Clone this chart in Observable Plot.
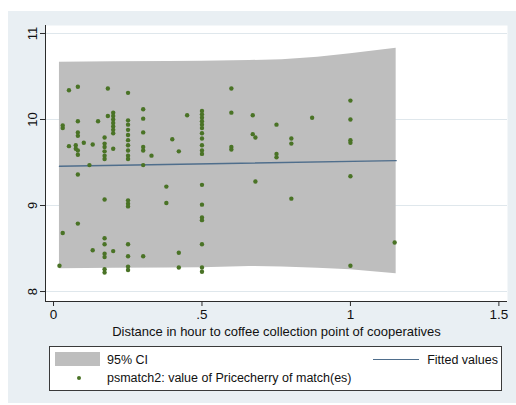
<!DOCTYPE html>
<html>
<head>
<meta charset="utf-8">
<script src="https://cdn.jsdelivr.net/npm/d3@7"></script>
<script src="https://cdn.jsdelivr.net/npm/@observablehq/plot@0.6"></script>
<style>
  html, body { margin: 0; padding: 0; background: #ffffff; }
  #page { position: relative; width: 516px; height: 405px; overflow: hidden; font-family: "Liberation Sans", Arial, sans-serif; }
  #bg { position: absolute; left: 8px; top: 11px; width: 508px; height: 392px; background: #e9eff3; }
  #chart { position: absolute; left: 0; top: 0; }
  #legend { position: absolute; left: 49px; top: 346px; width: 451px; height: 43px; border: 1px solid #3a3a3a; background: #ffffff; font-size: 12.5px; color: #111; }
  #legend .sw { position: absolute; }
  #legend .tx { position: absolute; white-space: nowrap; line-height: 14px; }
</style>
</head>
<body>
<div id="page">
  <div id="bg"></div>
  <div id="chart"></div>
  <div id="legend"></div>
</div>
<script>
// ---- data ----
const xTicks = [0, 0.5, 1, 1.5];
const xTickLabels = ["0", ".5", "1", "1.5"];
const yTicks = [8, 9, 10, 11];
const yTickLabels = ["8", "9", "10", "11"];
const xTitle = "Distance in hour to coffee collection point of cooperatives";

// 95% CI band edges
const bandX  = [0.02, 0.20, 0.39, 0.50, 0.66, 0.77, 0.89, 1.00, 1.154];
const bandHi = [10.666, 10.672, 10.674, 10.676, 10.686, 10.694, 10.724, 10.764, 10.829];
const bandLo = [8.264, 8.270, 8.274, 8.276, 8.292, 8.286, 8.270, 8.252, 8.206];

// fitted values line
const fitX = [0.02, 1.154];
const fitY = [9.457, 9.522];

// psmatch2: value of Pricecherry of match(es)
const ptX = [
  0.02,
  0.031, 0.031, 0.031,
  0.052, 0.052,
  0.075, 0.075,
  0.082, 0.082, 0.082, 0.082, 0.082, 0.082, 0.082, 0.082,
  0.102, 0.121, 0.132, 0.132, 0.150,
  0.172, 0.172, 0.172, 0.172, 0.172, 0.172, 0.172, 0.172, 0.172, 0.172, 0.172, 0.172, 0.172,
  0.183, 0.183,
  0.201, 0.201, 0.201, 0.201, 0.201, 0.201, 0.201, 0.201, 0.201,
  0.251, 0.251, 0.251, 0.251, 0.251, 0.251, 0.251, 0.251, 0.251, 0.251, 0.251, 0.251, 0.251, 0.251, 0.251, 0.251, 0.251,
  0.302, 0.302, 0.302, 0.302, 0.302, 0.302, 0.302,
  0.33, 0.38, 0.38, 0.40, 0.422, 0.422, 0.422, 0.45,
  0.50, 0.50, 0.50, 0.50, 0.50, 0.50, 0.50, 0.50, 0.50, 0.50, 0.50, 0.50, 0.50, 0.50, 0.50, 0.50, 0.50, 0.50,
  0.599, 0.599, 0.599, 0.599,
  0.671, 0.671, 0.68, 0.68,
  0.751, 0.751, 0.751,
  0.801, 0.801, 0.801,
  0.871,
  1.0, 1.0, 1.0, 1.0, 1.0, 1.0,
  1.149
];
const ptY = [
  8.30,
  9.90, 9.93, 8.68,
  10.34, 9.69,
  9.70, 9.66,
  10.38, 9.98, 9.85, 9.81, 9.64, 9.59, 9.36, 8.79,
  9.73, 9.47, 9.71, 8.48, 9.98,
  9.79, 9.72, 9.68, 9.63, 9.58, 9.54, 9.07, 8.62, 8.55, 8.44, 8.40, 8.26, 8.22,
  10.36, 10.04,
  10.08, 10.04, 10.00, 9.96, 9.92, 9.88, 9.84, 9.66, 8.47,
  10.31, 9.99, 9.94, 9.88, 9.82, 9.76, 9.70, 9.64, 9.58, 9.54, 9.06, 9.02, 8.99, 8.55, 8.41, 8.29, 8.25,
  10.12, 10.01, 9.85, 9.68, 9.64, 9.47, 8.41,
  9.58, 9.22, 9.03, 9.77, 9.63, 8.45, 8.28, 10.05,
  10.10, 10.06, 10.02, 9.98, 9.94, 9.90, 9.84, 9.78, 9.70, 9.64, 9.60, 9.24, 9.01, 8.86, 8.83, 8.55, 8.28, 8.23,
  10.36, 10.08, 9.68, 9.65,
  10.05, 9.83, 9.79, 9.28,
  9.94, 9.60, 9.56,
  9.78, 9.72, 9.08,
  10.02,
  10.22, 10.00, 9.76, 9.73, 9.34, 8.30,
  8.57
];

const legendItems = ["95% CI", "Fitted values", "psmatch2: value of Pricecherry of match(es)"];

// ---- build tables ----
const band = bandX.map((x, i) => ({x, lo: bandLo[i], hi: bandHi[i]}));
const fit = fitX.map((x, i) => ({x, y: fitY[i]}));
const pts = ptX.map((x, i) => ({x, y: ptY[i]}));

const colBand = "#bebebe";
const colFit = "#4f6e8c";
const colPt = "#4a7326";
const xDom = [-0.027, 1.529];
const yDom = [7.884, 11.093];

const chart = Plot.plot({
  width: 516,
  height: 340,
  marginLeft: 45,
  marginRight: 9,
  marginTop: 25,
  marginBottom: 39,
  style: { background: "transparent", fontFamily: "'Liberation Sans', Arial, sans-serif", fontSize: "13px", color: "#111" },
  x: { domain: xDom },
  y: { domain: yDom },
  marks: [
    Plot.frame({ fill: "#ffffff", stroke: null }),
    Plot.gridY(yTicks, { stroke: "#dfe7ec", strokeOpacity: 1 }),
    Plot.areaY(band, { x: "x", y1: "lo", y2: "hi", fill: colBand, curve: "linear" }),
    Plot.lineY(fit, { x: "x", y: "y", stroke: colFit, strokeWidth: 1.4 }),
    Plot.dot(pts, { x: "x", y: "y", r: 2.2, fill: colPt, stroke: null }),
    Plot.ruleX([xDom[0]], { stroke: "#2b2b2b", strokeWidth: 1 }),
    Plot.ruleY([yDom[0]], { stroke: "#2b2b2b", strokeWidth: 1 }),
    Plot.axisY(yTicks, {
      tickSize: 5, tickPadding: 4, tickRotate: -90,
      tickFormat: (d) => yTickLabels[yTicks.indexOf(d)],
      stroke: "#2b2b2b", label: null, fontSize: 13
    }),
    Plot.axisX(xTicks, {
      tickSize: 5, tickPadding: 3,
      tickFormat: (d) => xTickLabels[xTicks.indexOf(d)],
      stroke: "#2b2b2b", label: null, fontSize: 13.5
    }),
    Plot.text([xTitle], { frameAnchor: "bottom", dy: 30, text: (d) => d, fontSize: 13, lineAnchor: "middle", fill: "#111" })
  ]
});
document.getElementById("chart").appendChild(chart);

// ---- legend ----
const lg = document.getElementById("legend");
lg.innerHTML = `
  <div class="sw" style="left:5px; top:5px; width:45px; height:14px; background:${colBand};"></div>
  <div class="tx" style="left:57px; top:6px;">${legendItems[0]}</div>
  <div class="sw" style="left:323px; top:12px; width:46px; height:0; border-top:1.4px solid ${colFit};"></div>
  <div class="tx" style="right:3px; top:6px;">${legendItems[1]}</div>
  <div class="sw" style="left:27px; top:29px; width:4px; height:4px; border-radius:50%; background:${colPt};"></div>
  <div class="tx" style="left:57px; top:24px;">${legendItems[2]}</div>
`;
</script>
</body>
</html>
